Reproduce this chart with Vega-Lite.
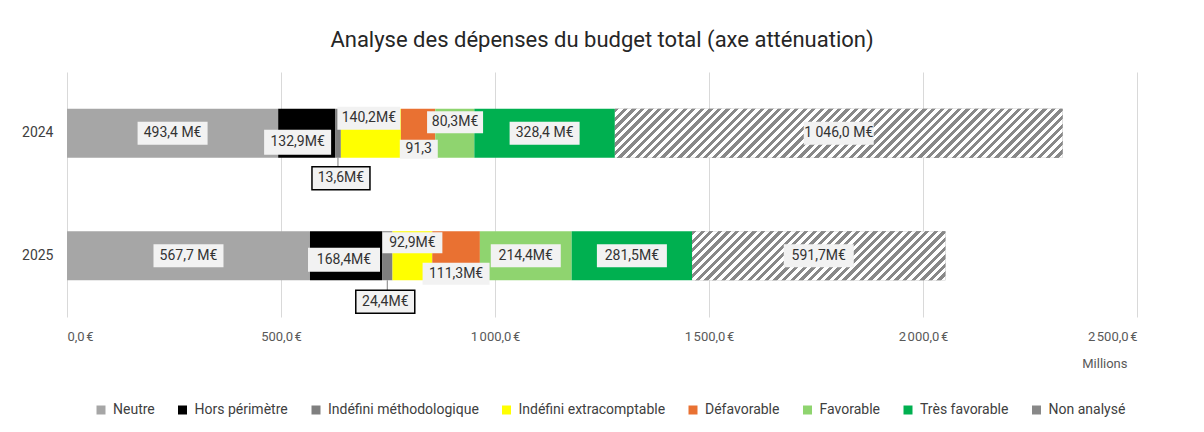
{
"$schema": "https://vega.github.io/schema/vega-lite/v6.json",
"width": 1070, "height": 245,
"autosize": {"type": "none"},
"padding": {"left": 67, "top": 72, "right": 67, "bottom": 115},
"background": "white",
"title": {"text": "Analyse des dépenses du budget total (axe atténuation)", "fontSize": 22, "font": "Roboto", "fontWeight": "normal", "color": "#262626", "offset": 20, "anchor": "middle"},
"config": {"view": {"stroke": null}, "font": "Roboto"},
"data": {"values": [
{"annee": "2024", "categorie": "Neutre", "valeur": 493.4, "etiquette": "493,4 M€"},
{"annee": "2024", "categorie": "Hors périmètre", "valeur": 132.9, "etiquette": "132,9M€"},
{"annee": "2024", "categorie": "Indéfini méthodologique", "valeur": 13.6, "etiquette": "13,6M€"},
{"annee": "2024", "categorie": "Indéfini extracomptable", "valeur": 140.2, "etiquette": "140,2M€"},
{"annee": "2024", "categorie": "Défavorable", "valeur": 80.3, "etiquette": "80,3M€"},
{"annee": "2024", "categorie": "Favorable", "valeur": 91.3, "etiquette": "91,3"},
{"annee": "2024", "categorie": "Très favorable", "valeur": 328.4, "etiquette": "328,4 M€"},
{"annee": "2024", "categorie": "Non analysé", "valeur": 1046.0, "etiquette": "1 046,0 M€"},
{"annee": "2025", "categorie": "Neutre", "valeur": 567.7, "etiquette": "567,7 M€"},
{"annee": "2025", "categorie": "Hors périmètre", "valeur": 168.4, "etiquette": "168,4M€"},
{"annee": "2025", "categorie": "Indéfini méthodologique", "valeur": 24.4, "etiquette": "24,4M€"},
{"annee": "2025", "categorie": "Indéfini extracomptable", "valeur": 92.9, "etiquette": "92,9M€"},
{"annee": "2025", "categorie": "Défavorable", "valeur": 111.3, "etiquette": "111,3M€"},
{"annee": "2025", "categorie": "Favorable", "valeur": 214.4, "etiquette": "214,4M€"},
{"annee": "2025", "categorie": "Très favorable", "valeur": 281.5, "etiquette": "281,5M€"},
{"annee": "2025", "categorie": "Non analysé", "valeur": 591.7, "etiquette": "591,7M€"}
]},
"transform": [{"stack": "valeur", "groupby": ["annee"], "as": ["debut", "fin"]}],
"layer": [
{"mark": {"type": "bar"},
 "encoding": {
  "y": {"field": "annee", "type": "nominal", "title": null, "scale": {"paddingInner": 0.6, "paddingOuter": 0.3},
        "axis": {"domain": false, "ticks": false, "labelPadding": 14, "labelFontSize": 14, "labelColor": "#404040"}},
  "x": {"field": "debut", "type": "quantitative", "title": "Millions", "scale": {"domain": [0, 2500], "nice": false},
        "axis": {"values": [0, 500, 1000, 1500, 2000, 2500], "domain": false, "ticks": false, "grid": true, "gridColor": "#d9d9d9",
                 "labelPadding": 13, "labelFontSize": 13, "labelColor": "#595959",
                 "labelExpr": "replace(replace(format(datum.value, ',.1f'), ',', '\u202f'), '.', ',') + '\u202f€'",
                 "titleX": 1060, "titleY": 46, "titleAlign": "right", "titleBaseline": "middle", "titleFontSize": 13, "titleFontWeight": "normal", "titleColor": "#595959"}},
  "x2": {"field": "fin"},
  "color": {"field": "categorie", "type": "nominal",
    "scale": {"domain": ["Neutre", "Hors périmètre", "Indéfini méthodologique", "Indéfini extracomptable", "Défavorable", "Favorable", "Très favorable", "Non analysé"],
              "range": ["#a6a6a6", "#000000", "#7f7f7f", "#ffff00", "#e97132", "#8fd46f", "#00b050", "#888888"]},
    "legend": {"title": null, "orient": "none", "legendX": 27, "legendY": 331, "direction": "horizontal", "symbolType": "square", "symbolSize": 81, "symbolStrokeWidth": 0, "labelFontSize": 14, "labelColor": "#404040", "labelOffset": 5, "columnPadding": 20.5}}
 }},
{"transform": [{"filter": "datum.categorie == 'Non analysé' && datum.annee == '2024'"}],
 "mark": {"type": "bar", "color": {"gradient": "linear", "x1": 0, "y1": 0, "x2": 1.0963, "y2": 0.12, "stops": [
{"offset":0,"color":"#888"},{"offset":0.0086,"color":"#888"},{"offset":0.0086,"color":"#fff"},{"offset":0.0172,"color":"#fff"},
{"offset":0.0172,"color":"#888"},{"offset":0.0259,"color":"#888"},{"offset":0.0259,"color":"#fff"},{"offset":0.0345,"color":"#fff"},
{"offset":0.0345,"color":"#888"},{"offset":0.0431,"color":"#888"},{"offset":0.0431,"color":"#fff"},{"offset":0.0517,"color":"#fff"},
{"offset":0.0517,"color":"#888"},{"offset":0.0603,"color":"#888"},{"offset":0.0603,"color":"#fff"},{"offset":0.069,"color":"#fff"},
{"offset":0.069,"color":"#888"},{"offset":0.0776,"color":"#888"},{"offset":0.0776,"color":"#fff"},{"offset":0.0862,"color":"#fff"},
{"offset":0.0862,"color":"#888"},{"offset":0.0948,"color":"#888"},{"offset":0.0948,"color":"#fff"},{"offset":0.1034,"color":"#fff"},
{"offset":0.1034,"color":"#888"},{"offset":0.1121,"color":"#888"},{"offset":0.1121,"color":"#fff"},{"offset":0.1207,"color":"#fff"},
{"offset":0.1207,"color":"#888"},{"offset":0.1293,"color":"#888"},{"offset":0.1293,"color":"#fff"},{"offset":0.1379,"color":"#fff"},
{"offset":0.1379,"color":"#888"},{"offset":0.1466,"color":"#888"},{"offset":0.1466,"color":"#fff"},{"offset":0.1552,"color":"#fff"},
{"offset":0.1552,"color":"#888"},{"offset":0.1638,"color":"#888"},{"offset":0.1638,"color":"#fff"},{"offset":0.1724,"color":"#fff"},
{"offset":0.1724,"color":"#888"},{"offset":0.181,"color":"#888"},{"offset":0.181,"color":"#fff"},{"offset":0.1897,"color":"#fff"},
{"offset":0.1897,"color":"#888"},{"offset":0.1983,"color":"#888"},{"offset":0.1983,"color":"#fff"},{"offset":0.2069,"color":"#fff"},
{"offset":0.2069,"color":"#888"},{"offset":0.2155,"color":"#888"},{"offset":0.2155,"color":"#fff"},{"offset":0.2241,"color":"#fff"},
{"offset":0.2241,"color":"#888"},{"offset":0.2328,"color":"#888"},{"offset":0.2328,"color":"#fff"},{"offset":0.2414,"color":"#fff"},
{"offset":0.2414,"color":"#888"},{"offset":0.25,"color":"#888"},{"offset":0.25,"color":"#fff"},{"offset":0.2586,"color":"#fff"},
{"offset":0.2586,"color":"#888"},{"offset":0.2672,"color":"#888"},{"offset":0.2672,"color":"#fff"},{"offset":0.2759,"color":"#fff"},
{"offset":0.2759,"color":"#888"},{"offset":0.2845,"color":"#888"},{"offset":0.2845,"color":"#fff"},{"offset":0.2931,"color":"#fff"},
{"offset":0.2931,"color":"#888"},{"offset":0.3017,"color":"#888"},{"offset":0.3017,"color":"#fff"},{"offset":0.3103,"color":"#fff"},
{"offset":0.3103,"color":"#888"},{"offset":0.319,"color":"#888"},{"offset":0.319,"color":"#fff"},{"offset":0.3276,"color":"#fff"},
{"offset":0.3276,"color":"#888"},{"offset":0.3362,"color":"#888"},{"offset":0.3362,"color":"#fff"},{"offset":0.3448,"color":"#fff"},
{"offset":0.3448,"color":"#888"},{"offset":0.3534,"color":"#888"},{"offset":0.3534,"color":"#fff"},{"offset":0.3621,"color":"#fff"},
{"offset":0.3621,"color":"#888"},{"offset":0.3707,"color":"#888"},{"offset":0.3707,"color":"#fff"},{"offset":0.3793,"color":"#fff"},
{"offset":0.3793,"color":"#888"},{"offset":0.3879,"color":"#888"},{"offset":0.3879,"color":"#fff"},{"offset":0.3966,"color":"#fff"},
{"offset":0.3966,"color":"#888"},{"offset":0.4052,"color":"#888"},{"offset":0.4052,"color":"#fff"},{"offset":0.4138,"color":"#fff"},
{"offset":0.4138,"color":"#888"},{"offset":0.4224,"color":"#888"},{"offset":0.4224,"color":"#fff"},{"offset":0.431,"color":"#fff"},
{"offset":0.431,"color":"#888"},{"offset":0.4397,"color":"#888"},{"offset":0.4397,"color":"#fff"},{"offset":0.4483,"color":"#fff"},
{"offset":0.4483,"color":"#888"},{"offset":0.4569,"color":"#888"},{"offset":0.4569,"color":"#fff"},{"offset":0.4655,"color":"#fff"},
{"offset":0.4655,"color":"#888"},{"offset":0.4741,"color":"#888"},{"offset":0.4741,"color":"#fff"},{"offset":0.4828,"color":"#fff"},
{"offset":0.4828,"color":"#888"},{"offset":0.4914,"color":"#888"},{"offset":0.4914,"color":"#fff"},{"offset":0.5,"color":"#fff"},
{"offset":0.5,"color":"#888"},{"offset":0.5086,"color":"#888"},{"offset":0.5086,"color":"#fff"},{"offset":0.5172,"color":"#fff"},
{"offset":0.5172,"color":"#888"},{"offset":0.5259,"color":"#888"},{"offset":0.5259,"color":"#fff"},{"offset":0.5345,"color":"#fff"},
{"offset":0.5345,"color":"#888"},{"offset":0.5431,"color":"#888"},{"offset":0.5431,"color":"#fff"},{"offset":0.5517,"color":"#fff"},
{"offset":0.5517,"color":"#888"},{"offset":0.5603,"color":"#888"},{"offset":0.5603,"color":"#fff"},{"offset":0.569,"color":"#fff"},
{"offset":0.569,"color":"#888"},{"offset":0.5776,"color":"#888"},{"offset":0.5776,"color":"#fff"},{"offset":0.5862,"color":"#fff"},
{"offset":0.5862,"color":"#888"},{"offset":0.5948,"color":"#888"},{"offset":0.5948,"color":"#fff"},{"offset":0.6034,"color":"#fff"},
{"offset":0.6034,"color":"#888"},{"offset":0.6121,"color":"#888"},{"offset":0.6121,"color":"#fff"},{"offset":0.6207,"color":"#fff"},
{"offset":0.6207,"color":"#888"},{"offset":0.6293,"color":"#888"},{"offset":0.6293,"color":"#fff"},{"offset":0.6379,"color":"#fff"},
{"offset":0.6379,"color":"#888"},{"offset":0.6466,"color":"#888"},{"offset":0.6466,"color":"#fff"},{"offset":0.6552,"color":"#fff"},
{"offset":0.6552,"color":"#888"},{"offset":0.6638,"color":"#888"},{"offset":0.6638,"color":"#fff"},{"offset":0.6724,"color":"#fff"},
{"offset":0.6724,"color":"#888"},{"offset":0.681,"color":"#888"},{"offset":0.681,"color":"#fff"},{"offset":0.6897,"color":"#fff"},
{"offset":0.6897,"color":"#888"},{"offset":0.6983,"color":"#888"},{"offset":0.6983,"color":"#fff"},{"offset":0.7069,"color":"#fff"},
{"offset":0.7069,"color":"#888"},{"offset":0.7155,"color":"#888"},{"offset":0.7155,"color":"#fff"},{"offset":0.7241,"color":"#fff"},
{"offset":0.7241,"color":"#888"},{"offset":0.7328,"color":"#888"},{"offset":0.7328,"color":"#fff"},{"offset":0.7414,"color":"#fff"},
{"offset":0.7414,"color":"#888"},{"offset":0.75,"color":"#888"},{"offset":0.75,"color":"#fff"},{"offset":0.7586,"color":"#fff"},
{"offset":0.7586,"color":"#888"},{"offset":0.7672,"color":"#888"},{"offset":0.7672,"color":"#fff"},{"offset":0.7759,"color":"#fff"},
{"offset":0.7759,"color":"#888"},{"offset":0.7845,"color":"#888"},{"offset":0.7845,"color":"#fff"},{"offset":0.7931,"color":"#fff"},
{"offset":0.7931,"color":"#888"},{"offset":0.8017,"color":"#888"},{"offset":0.8017,"color":"#fff"},{"offset":0.8103,"color":"#fff"},
{"offset":0.8103,"color":"#888"},{"offset":0.819,"color":"#888"},{"offset":0.819,"color":"#fff"},{"offset":0.8276,"color":"#fff"},
{"offset":0.8276,"color":"#888"},{"offset":0.8362,"color":"#888"},{"offset":0.8362,"color":"#fff"},{"offset":0.8448,"color":"#fff"},
{"offset":0.8448,"color":"#888"},{"offset":0.8534,"color":"#888"},{"offset":0.8534,"color":"#fff"},{"offset":0.8621,"color":"#fff"},
{"offset":0.8621,"color":"#888"},{"offset":0.8707,"color":"#888"},{"offset":0.8707,"color":"#fff"},{"offset":0.8793,"color":"#fff"},
{"offset":0.8793,"color":"#888"},{"offset":0.8879,"color":"#888"},{"offset":0.8879,"color":"#fff"},{"offset":0.8966,"color":"#fff"},
{"offset":0.8966,"color":"#888"},{"offset":0.9052,"color":"#888"},{"offset":0.9052,"color":"#fff"},{"offset":0.9138,"color":"#fff"},
{"offset":0.9138,"color":"#888"},{"offset":0.9224,"color":"#888"},{"offset":0.9224,"color":"#fff"},{"offset":0.931,"color":"#fff"},
{"offset":0.931,"color":"#888"},{"offset":0.9397,"color":"#888"},{"offset":0.9397,"color":"#fff"},{"offset":0.9483,"color":"#fff"},
{"offset":0.9483,"color":"#888"},{"offset":0.9569,"color":"#888"},{"offset":0.9569,"color":"#fff"},{"offset":0.9655,"color":"#fff"},
{"offset":0.9655,"color":"#888"},{"offset":0.9741,"color":"#888"},{"offset":0.9741,"color":"#fff"},{"offset":0.9828,"color":"#fff"},
{"offset":0.9828,"color":"#888"},{"offset":0.9914,"color":"#888"},{"offset":0.9914,"color":"#fff"},{"offset":1,"color":"#fff"}
 ]}},
 "encoding": {"y": {"field": "annee", "type": "nominal"}, "x": {"field": "debut", "type": "quantitative", "title": "Millions"}, "x2": {"field": "fin"}}},
{"transform": [{"filter": "datum.categorie == 'Non analysé' && datum.annee == '2025'"}],
 "mark": {"type": "bar", "color": {"gradient": "linear", "x1": 0, "y1": 0, "x2": 1.1504, "y2": 0.2226, "stops": [
{"offset":0,"color":"#888"},{"offset":0.0143,"color":"#888"},{"offset":0.0143,"color":"#fff"},{"offset":0.0286,"color":"#fff"},
{"offset":0.0286,"color":"#888"},{"offset":0.0429,"color":"#888"},{"offset":0.0429,"color":"#fff"},{"offset":0.0571,"color":"#fff"},
{"offset":0.0571,"color":"#888"},{"offset":0.0714,"color":"#888"},{"offset":0.0714,"color":"#fff"},{"offset":0.0857,"color":"#fff"},
{"offset":0.0857,"color":"#888"},{"offset":0.1,"color":"#888"},{"offset":0.1,"color":"#fff"},{"offset":0.1143,"color":"#fff"},
{"offset":0.1143,"color":"#888"},{"offset":0.1286,"color":"#888"},{"offset":0.1286,"color":"#fff"},{"offset":0.1429,"color":"#fff"},
{"offset":0.1429,"color":"#888"},{"offset":0.1571,"color":"#888"},{"offset":0.1571,"color":"#fff"},{"offset":0.1714,"color":"#fff"},
{"offset":0.1714,"color":"#888"},{"offset":0.1857,"color":"#888"},{"offset":0.1857,"color":"#fff"},{"offset":0.2,"color":"#fff"},
{"offset":0.2,"color":"#888"},{"offset":0.2143,"color":"#888"},{"offset":0.2143,"color":"#fff"},{"offset":0.2286,"color":"#fff"},
{"offset":0.2286,"color":"#888"},{"offset":0.2429,"color":"#888"},{"offset":0.2429,"color":"#fff"},{"offset":0.2571,"color":"#fff"},
{"offset":0.2571,"color":"#888"},{"offset":0.2714,"color":"#888"},{"offset":0.2714,"color":"#fff"},{"offset":0.2857,"color":"#fff"},
{"offset":0.2857,"color":"#888"},{"offset":0.3,"color":"#888"},{"offset":0.3,"color":"#fff"},{"offset":0.3143,"color":"#fff"},
{"offset":0.3143,"color":"#888"},{"offset":0.3286,"color":"#888"},{"offset":0.3286,"color":"#fff"},{"offset":0.3429,"color":"#fff"},
{"offset":0.3429,"color":"#888"},{"offset":0.3571,"color":"#888"},{"offset":0.3571,"color":"#fff"},{"offset":0.3714,"color":"#fff"},
{"offset":0.3714,"color":"#888"},{"offset":0.3857,"color":"#888"},{"offset":0.3857,"color":"#fff"},{"offset":0.4,"color":"#fff"},
{"offset":0.4,"color":"#888"},{"offset":0.4143,"color":"#888"},{"offset":0.4143,"color":"#fff"},{"offset":0.4286,"color":"#fff"},
{"offset":0.4286,"color":"#888"},{"offset":0.4429,"color":"#888"},{"offset":0.4429,"color":"#fff"},{"offset":0.4571,"color":"#fff"},
{"offset":0.4571,"color":"#888"},{"offset":0.4714,"color":"#888"},{"offset":0.4714,"color":"#fff"},{"offset":0.4857,"color":"#fff"},
{"offset":0.4857,"color":"#888"},{"offset":0.5,"color":"#888"},{"offset":0.5,"color":"#fff"},{"offset":0.5143,"color":"#fff"},
{"offset":0.5143,"color":"#888"},{"offset":0.5286,"color":"#888"},{"offset":0.5286,"color":"#fff"},{"offset":0.5429,"color":"#fff"},
{"offset":0.5429,"color":"#888"},{"offset":0.5571,"color":"#888"},{"offset":0.5571,"color":"#fff"},{"offset":0.5714,"color":"#fff"},
{"offset":0.5714,"color":"#888"},{"offset":0.5857,"color":"#888"},{"offset":0.5857,"color":"#fff"},{"offset":0.6,"color":"#fff"},
{"offset":0.6,"color":"#888"},{"offset":0.6143,"color":"#888"},{"offset":0.6143,"color":"#fff"},{"offset":0.6286,"color":"#fff"},
{"offset":0.6286,"color":"#888"},{"offset":0.6429,"color":"#888"},{"offset":0.6429,"color":"#fff"},{"offset":0.6571,"color":"#fff"},
{"offset":0.6571,"color":"#888"},{"offset":0.6714,"color":"#888"},{"offset":0.6714,"color":"#fff"},{"offset":0.6857,"color":"#fff"},
{"offset":0.6857,"color":"#888"},{"offset":0.7,"color":"#888"},{"offset":0.7,"color":"#fff"},{"offset":0.7143,"color":"#fff"},
{"offset":0.7143,"color":"#888"},{"offset":0.7286,"color":"#888"},{"offset":0.7286,"color":"#fff"},{"offset":0.7429,"color":"#fff"},
{"offset":0.7429,"color":"#888"},{"offset":0.7571,"color":"#888"},{"offset":0.7571,"color":"#fff"},{"offset":0.7714,"color":"#fff"},
{"offset":0.7714,"color":"#888"},{"offset":0.7857,"color":"#888"},{"offset":0.7857,"color":"#fff"},{"offset":0.8,"color":"#fff"},
{"offset":0.8,"color":"#888"},{"offset":0.8143,"color":"#888"},{"offset":0.8143,"color":"#fff"},{"offset":0.8286,"color":"#fff"},
{"offset":0.8286,"color":"#888"},{"offset":0.8429,"color":"#888"},{"offset":0.8429,"color":"#fff"},{"offset":0.8571,"color":"#fff"},
{"offset":0.8571,"color":"#888"},{"offset":0.8714,"color":"#888"},{"offset":0.8714,"color":"#fff"},{"offset":0.8857,"color":"#fff"},
{"offset":0.8857,"color":"#888"},{"offset":0.9,"color":"#888"},{"offset":0.9,"color":"#fff"},{"offset":0.9143,"color":"#fff"},
{"offset":0.9143,"color":"#888"},{"offset":0.9286,"color":"#888"},{"offset":0.9286,"color":"#fff"},{"offset":0.9429,"color":"#fff"},
{"offset":0.9429,"color":"#888"},{"offset":0.9571,"color":"#888"},{"offset":0.9571,"color":"#fff"},{"offset":0.9714,"color":"#fff"},
{"offset":0.9714,"color":"#888"},{"offset":0.9857,"color":"#888"},{"offset":0.9857,"color":"#fff"},{"offset":1,"color":"#fff"}
 ]}},
 "encoding": {"y": {"field": "annee", "type": "nominal"}, "x": {"field": "debut", "type": "quantitative", "title": "Millions"}, "x2": {"field": "fin"}}},
{"transform": [{"fold": ["debut", "fin"], "as": ["bord", "pos"]}, {"aggregate": [{"op": "mean", "field": "pos", "as": "milieu"}], "groupby": ["annee", "categorie", "etiquette"]}],
 "encoding": {"x": {"field": "milieu", "type": "quantitative", "title": "Millions"}, "y": {"field": "annee", "type": "nominal"}},
 "layer": [
  {"transform": [{"filter": "datum.categorie == 'Neutre' || datum.categorie == 'Très favorable' || datum.categorie == 'Non analysé' || (datum.categorie == 'Favorable' && datum.annee == '2025')"}],
   "layer": [
    {"mark": {"type": "point", "shape": "M-0.7,-0.23H0.7V0.23H-0.7Z", "size": 10000, "filled": true, "fill": "#f2f2f2", "opacity": 1, "strokeWidth": 0}},
    {"mark": {"type": "text", "fontSize": 14, "color": "#333"}, "encoding": {"text": {"field": "etiquette"}}}
   ]},
  {"transform": [{"filter": "datum.annee == '2024' && datum.categorie == 'Hors périmètre'"}],
   "layer": [
    {"mark": {"type": "point", "shape": "M-0.67,-0.25H0.67V0.25H-0.67Z", "size": 10000, "filled": true, "fill": "#f2f2f2", "opacity": 1, "strokeWidth": 0, "xOffset": -9, "yOffset": 9}},
    {"mark": {"type": "text", "fontSize": 14, "color": "#333", "xOffset": -9, "yOffset": 9}, "encoding": {"text": {"field": "etiquette"}}}
   ]},
  {"transform": [{"filter": "datum.annee == '2024' && datum.categorie == 'Indéfini méthodologique'"}],
   "layer": [
    {"mark": {"type": "point", "shape": "M0,0.49V0.675", "size": 10000, "filled": false, "stroke": "#808080", "strokeWidth": 1, "opacity": 1}},
    {"mark": {"type": "point", "shape": "M-0.58,-0.23H0.58V0.23H-0.58Z", "size": 10000, "filled": true, "fill": "#f2f2f2", "stroke": "#000", "strokeWidth": 1.5, "opacity": 1, "xOffset": 3, "yOffset": 45}},
    {"mark": {"type": "text", "fontSize": 14, "color": "#333", "xOffset": 3, "yOffset": 45}, "encoding": {"text": {"field": "etiquette"}}}
   ]},
  {"transform": [{"filter": "datum.annee == '2024' && datum.categorie == 'Indéfini extracomptable'"}],
   "layer": [
    {"mark": {"type": "point", "shape": "M-0.63,-0.23H0.63V0.23H-0.63Z", "size": 10000, "filled": true, "fill": "#f2f2f2", "opacity": 1, "strokeWidth": 0, "xOffset": -2, "yOffset": -15}},
    {"mark": {"type": "text", "fontSize": 14, "color": "#333", "xOffset": -2, "yOffset": -15}, "encoding": {"text": {"field": "etiquette"}}}
   ]},
  {"transform": [{"filter": "datum.annee == '2024' && datum.categorie == 'Défavorable'"}],
   "layer": [
    {"mark": {"type": "point", "shape": "M-0.56,-0.22H0.56V0.22H-0.56Z", "size": 10000, "filled": true, "fill": "#f2f2f2", "opacity": 1, "strokeWidth": 0, "xOffset": 37, "yOffset": -11}},
    {"mark": {"type": "text", "fontSize": 14, "color": "#333", "xOffset": 37, "yOffset": -11}, "encoding": {"text": {"field": "etiquette"}}}
   ]},
  {"transform": [{"filter": "datum.annee == '2024' && datum.categorie == 'Favorable'"}],
   "layer": [
    {"mark": {"type": "point", "shape": "M-0.38,-0.19H0.38V0.19H-0.38Z", "size": 10000, "filled": true, "fill": "#f2f2f2", "opacity": 1, "strokeWidth": 0, "xOffset": -36, "yOffset": 16}},
    {"mark": {"type": "text", "fontSize": 14, "color": "#333", "xOffset": -36, "yOffset": 16}, "encoding": {"text": {"field": "etiquette"}}}
   ]},
  {"transform": [{"filter": "datum.annee == '2025' && datum.categorie == 'Hors périmètre'"}],
   "layer": [
    {"mark": {"type": "point", "shape": "M-0.72,-0.24H0.72V0.24H-0.72Z", "size": 10000, "filled": true, "fill": "#f2f2f2", "opacity": 1, "strokeWidth": 0, "xOffset": -2, "yOffset": 4}},
    {"mark": {"type": "text", "fontSize": 14, "color": "#333", "xOffset": -2, "yOffset": 4}, "encoding": {"text": {"field": "etiquette"}}}
   ]},
  {"transform": [{"filter": "datum.annee == '2025' && datum.categorie == 'Indéfini méthodologique'"}],
   "layer": [
    {"mark": {"type": "point", "shape": "M0,0.49V0.69", "size": 10000, "filled": false, "stroke": "#808080", "strokeWidth": 1, "opacity": 1}},
    {"mark": {"type": "point", "shape": "M-0.59,-0.23H0.59V0.23H-0.59Z", "size": 10000, "filled": true, "fill": "#f2f2f2", "stroke": "#000", "strokeWidth": 1.5, "opacity": 1, "xOffset": -2, "yOffset": 46}},
    {"mark": {"type": "text", "fontSize": 14, "color": "#333", "xOffset": -2, "yOffset": 46}, "encoding": {"text": {"field": "etiquette"}}}
   ]},
  {"transform": [{"filter": "datum.annee == '2025' && datum.categorie == 'Indéfini extracomptable'"}],
   "layer": [
    {"mark": {"type": "point", "shape": "M-0.6,-0.21H0.6V0.21H-0.6Z", "size": 10000, "filled": true, "fill": "#f2f2f2", "opacity": 1, "strokeWidth": 0, "xOffset": 0, "yOffset": -13}},
    {"mark": {"type": "text", "fontSize": 14, "color": "#333", "xOffset": 0, "yOffset": -13}, "encoding": {"text": {"field": "etiquette"}}}
   ]},
  {"transform": [{"filter": "datum.annee == '2025' && datum.categorie == 'Défavorable'"}],
   "layer": [
    {"mark": {"type": "point", "shape": "M-0.67,-0.22H0.67V0.22H-0.67Z", "size": 10000, "filled": true, "fill": "#f2f2f2", "opacity": 1, "strokeWidth": 0, "xOffset": 0, "yOffset": 18}},
    {"mark": {"type": "text", "fontSize": 14, "color": "#333", "xOffset": 0, "yOffset": 18}, "encoding": {"text": {"field": "etiquette"}}}
   ]}
 ]}
]
}
